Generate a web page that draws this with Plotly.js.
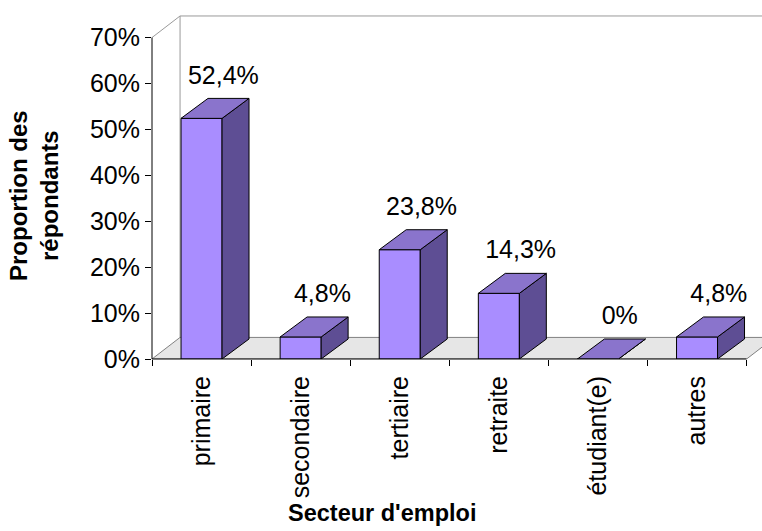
<!DOCTYPE html>
<html><head><meta charset="utf-8">
<script src="https://cdn.plot.ly/plotly-3.0.1.min.js"></script>
<style>html,body{margin:0;padding:0;background:#fff;} #chart{width:762px;height:531px;}</style>
</head><body><div id="chart"></div>
<script>
// ---- data ----
const categories = ['primaire', 'secondaire', 'tertiaire', 'retraite', 'étudiant(e)', 'autres'];
const values = [52.4, 4.8, 23.8, 14.3, 0, 4.8];
const valueLabels = ['52,4%', '4,8%', '23,8%', '14,3%', '0%', '4,8%'];
const yTickValues = [0, 10, 20, 30, 40, 50, 60, 70];
const yTickLabels = ['0%', '10%', '20%', '30%', '40%', '50%', '60%', '70%'];
const xTitle = "Secteur d'emploi";
const yTitle = 'Proportion des<br>répondants';

// ---- styles / geometry ----
const FONT = 'Arial, "Liberation Sans", sans-serif';
const FRONT = '#A98DFF', TOP = '#8A74CC', SIDE = '#5E4E94';
const barW = 0.414, bdx = 0.272, bdy = 4.35;   // bar depth offsets
const wdx = 0.283, wdy = 4.7;                    // floor / wall depth
const n = categories.length;
const xMin = -0.5, xMax = n - 0.5;
const yTop = yTickValues[yTickValues.length - 1];
const xIdx = categories.map((c, i) => i);

const traces = [];
const base = {type: 'scatter', mode: 'lines', hoverinfo: 'skip', showlegend: false};

// floor
traces.push(Object.assign({}, base, {
  x: [xMin, xMax, xMax + wdx, xMin + wdx, xMin],
  y: [0, 0, wdy, wdy, 0],
  fill: 'toself', fillcolor: '#E6E6E6',
  line: {color: '#808080', width: 1}
}));
// walls outline
traces.push(Object.assign({}, base, {
  x: [xMin, xMin + wdx, xMax + wdx + 1, null, xMin + wdx, xMin + wdx],
  y: [yTop, yTop + wdy, yTop + wdy, null, wdy, yTop + wdy],
  line: {color: '#9A9A9A', width: 1}
}));

// 3D bars
xIdx.forEach((i) => {
  const v = values[i];
  const l = i - barW / 2, r = i + barW / 2;
  traces.push(Object.assign({}, base, {
    x: [l, r, r, l, l], y: [0, 0, v, v, 0],
    fill: 'toself', fillcolor: FRONT, line: {color: '#000', width: 1}
  }));
  traces.push(Object.assign({}, base, {
    x: [r, r + bdx, r + bdx, r, r], y: [0, bdy, v + bdy, v, 0],
    fill: 'toself', fillcolor: SIDE, line: {color: '#000', width: 1}
  }));
  traces.push(Object.assign({}, base, {
    x: [l, r, r + bdx, l + bdx, l], y: [v, v, v + bdy, v + bdy, v],
    fill: 'toself', fillcolor: TOP, line: {color: '#000', width: 1}
  }));
});

// value labels
traces.push({
  type: 'scatter', mode: 'text', hoverinfo: 'skip', showlegend: false,
  x: xIdx.map(i => i + 0.22),
  y: values.map(v => v + bdy + 4.6),
  text: valueLabels, textposition: 'middle center',
  textfont: {family: FONT, size: 25, color: '#000'},
  cliponaxis: false
});

const layout = {
  width: 762, height: 531,
  margin: {l: 152, r: 0, t: 10, b: 172, pad: 0},
  paper_bgcolor: '#fff', plot_bgcolor: '#fff',
  font: {family: FONT, color: '#000'},
  xaxis: {
    range: [xMin, xMin + 610 / 99.1],
    tickmode: 'array', tickvals: xIdx, ticktext: categories,
    tickangle: -90, ticks: 'outside', ticklen: 6, tickcolor: 'rgba(0,0,0,0)',
    tickfont: {family: FONT, size: 25, color: '#000'},
    minor: {tickmode: 'array', tickvals: xIdx.map(i => i - 0.5).concat([xMax]),
            ticks: 'outside', ticklen: 6, tickcolor: '#000', tickwidth: 1, showgrid: false},
    showgrid: false, zeroline: false, showline: false, fixedrange: true
  },
  yaxis: {
    range: [0, 76],
    tickmode: 'array', tickvals: yTickValues, ticktext: yTickLabels,
    ticks: 'outside', ticklen: 6, tickcolor: '#000', tickwidth: 1,
    tickfont: {family: FONT, size: 25, color: '#000'},
    showgrid: false, zeroline: false, showline: false, fixedrange: true
  },
  shapes: [
    {type: 'line', xref: 'paper', x0: 0, x1: 0, yref: 'y', y0: 0, y1: yTop,
     line: {color: '#000', width: 1}, layer: 'above'},
    {type: 'line', xref: 'x', x0: xMin, x1: xMax, yref: 'paper', y0: 0, y1: 0,
     line: {color: '#000', width: 1}, layer: 'above'}
  ],
  annotations: [
    {text: '<b>' + yTitle + '</b>', xref: 'paper', yref: 'paper',
     x: (34 - 152) / 610, y: (359 - 196) / 349, xanchor: 'center', yanchor: 'middle',
     textangle: -90, showarrow: false, font: {family: FONT, size: 24, color: '#000'}},
    {text: '<b>' + xTitle + '</b>', xref: 'paper', yref: 'paper',
     x: (382 - 152) / 610, y: (359 - 513) / 349, xanchor: 'center', yanchor: 'middle',
     showarrow: false, font: {family: FONT, size: 23.5, color: '#000'}}
  ]
};

Plotly.newPlot('chart', traces, layout, {displayModeBar: false, staticPlot: true});
</script>
</body></html>
